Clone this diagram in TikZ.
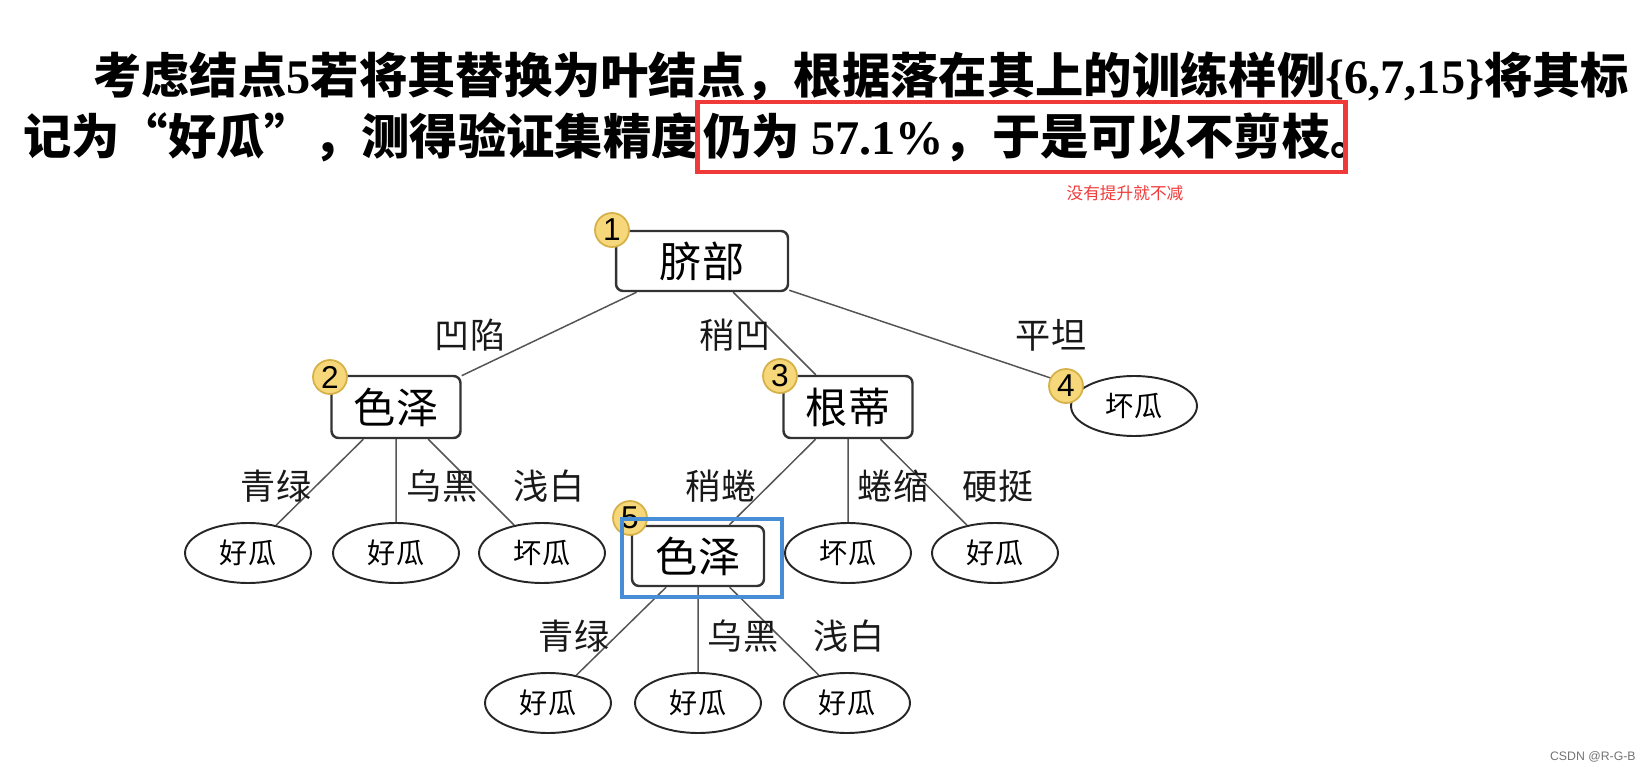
\documentclass[tikz,border=0pt]{standalone}
\usepackage{fontspec}
\usepackage{xcolor}
\usepackage{tikz}
\usetikzlibrary{shapes.geometric}
\setmainfont{Noto Sans CJK SC}
\setsansfont{Liberation Sans}
\newfontfamily\numfont{Liberation Serif}
\definecolor{hlred}{RGB}{240,58,58}
\definecolor{badgefill}{RGB}{246,216,122}
\definecolor{badgeline}{RGB}{214,176,72}
\definecolor{selblue}{RGB}{72,142,214}
\definecolor{edgegray}{RGB}{85,85,85}
\begin{document}
\begin{tikzpicture}[x=0.02cm,y=-0.02cm,
	attr/.style={draw=black!80, text=black, line width=1.4pt, rounded corners=4pt, minimum width=2.58cm, minimum height=1.24cm, inner sep=0pt, font=\fontsize{24}{24}\selectfont},
	leaf/.style={draw=black!85, text=black, ellipse, line width=1.1pt, minimum width=2.52cm, minimum height=1.2cm, inner sep=0pt, font=\fontsize{16}{16}\selectfont},
	lbl/.style={inner sep=0pt, text=black!90, font=\fontsize{20}{20}\selectfont},
	badge/.style={circle, draw=badgeline, fill=badgefill, text=black, line width=1pt, minimum size=0.68cm, inner sep=0pt, font=\fontsize{18}{18}\sffamily},
	head/.style={anchor=west, inner sep=0pt, font=\fontsize{27.5}{27.5}\selectfont\bfseries}]
		\useasboundingbox (0,0) rectangle (1651,770);
		\node[head] at (93,76) (head1) {考虑结点{\numfont 5}若将其替换为叶结点，根据落在其上的训练样例{\numfont\{6,7,15\}}将其标};
		\node[head] at (23,137) (head2) {记为“好瓜”，测得验证集精度};
		\node[head] at (703,137) (head3) {仍为 {\numfont 57.1\%}，于是可以不剪枝。};
		\node[draw=hlred, line width=2.8pt, minimum width=12.98cm, minimum height=1.4cm] at (1021.5,137) (hl) {};
		\node[text=hlred, inner sep=0pt, font=\fontsize{9.5}{9.5}\selectfont] at (1125,193) (note) {没有提升就不减};
		\draw[edgegray, line width=0.85pt]
		node[attr, minimum width=3.44cm, minimum height=1.2cm] at (702,261) (qibu) {脐部}
		node[attr] at (396,407) (seze) {色泽}
		node[attr] at (848,407) (gendi) {根蒂}
		node[leaf] at (1134,406) (ping) {坏瓜}
		node[leaf] at (248,553) (qing) {好瓜}
		node[leaf] at (396,553) (wu) {好瓜}
		node[leaf] at (542,553) (qian) {坏瓜}
		node[attr, minimum width=2.64cm, minimum height=1.2cm] at (698,556) (seze5) {色泽}
		node[leaf] at (848,553) (juan) {坏瓜}
		node[leaf] at (995,553) (ying) {好瓜}
		node[leaf] at (548,703) (qing5) {好瓜}
		node[leaf] at (698,703) (wu5) {好瓜}
		node[leaf] at (847,703) (qian5) {好瓜}
		node[lbl] at (470,335) (lao) {凹陷}
		node[lbl] at (735,335) (lsao) {稍凹}
		node[lbl] at (1051,335) (lpt) {平坦}
		node[lbl] at (276,486) (lqing) {青绿}
		node[lbl] at (442,486) (lwu) {乌黑}
		node[lbl] at (549,486) (lqian) {浅白}
		node[lbl] at (721,486) (lsq) {稍蜷}
		node[lbl] at (893,486) (ljs) {蜷缩}
		node[lbl] at (998,486) (lyt) {硬挺}
		node[lbl] at (574,636) (lqing5) {青绿}
		node[lbl] at (743,636) (lwu5) {乌黑}
		node[lbl] at (849,636) (lqian5) {浅白}
		(qibu) -- (seze)
		(qibu) -- (gendi)
		(qibu) -- (ping)
		(seze) -- (qing)
		(seze) -- (wu)
		(seze) -- (qian)
		(gendi) -- (seze5)
		(gendi) -- (juan)
		(gendi) -- (ying)
		(seze5) -- (qing5)
		(seze5) -- (wu5)
		(seze5) -- (qian5);
		\node[badge] at (612,230) (b1) {1};
		\node[badge] at (330,377) (b2) {2};
		\node[badge] at (780,376) (b3) {3};
		\node[badge] at (1066,386) (b4) {4};
		\node[badge] at (630,518) (b5) {5};
		\node[draw=selblue, line width=2.2pt, minimum width=3.2cm, minimum height=1.56cm] at (702,558) (sel) {};
		\node[anchor=east, inner sep=0pt, text=black!55, font=\fontsize{7}{7}\sffamily] at (1636,757) (mark) {CSDN @R-G-B};
	\end{tikzpicture}
\end{document}
